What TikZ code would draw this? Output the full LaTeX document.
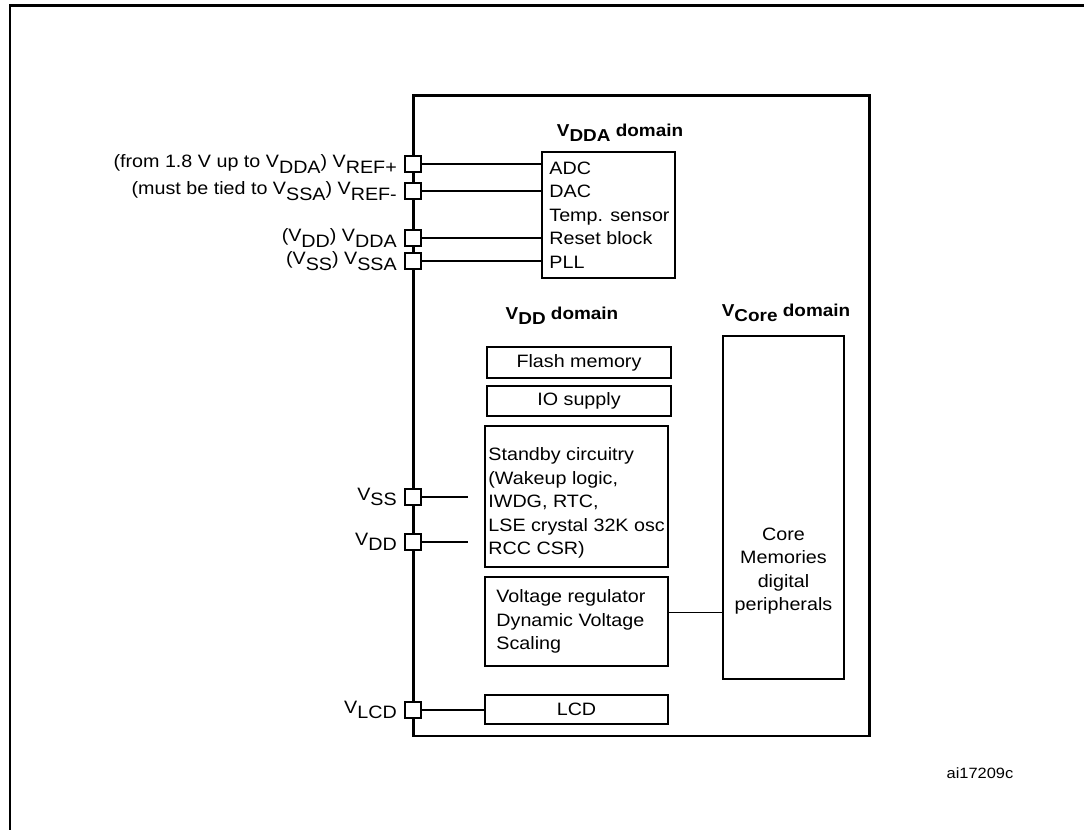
\documentclass[tikz,border=0pt]{standalone}
\usepackage{fontspec}
\setmainfont{Liberation Sans}[FakeStretch=1.1]
\usetikzlibrary{positioning,calc}
\newcommand{\Vs}[1]{V\raisebox{-3pt}{#1}}

\begin{document}
\begin{tikzpicture}[x=0.02cm, y=-0.02cm, font=\fontsize{10.2}{13.4}\selectfont]
\tikzstyle{block} = [rectangle, draw, line width=1.1pt, inner sep=0pt]
\tikzstyle{pad} = [rectangle, draw, fill=white, line width=1pt, minimum size=0.32cm, inner sep=0pt]
\tikzstyle{wire} = [draw, line width=0.85pt]
\tikzstyle{title} = [font=\fontsize{9.8}{12}\selectfont\bfseries]
\tikzstyle{lbl} = [inner sep=0pt, align=left]

\useasboundingbox (0,0) rectangle (1084,830);
% frame and chip
\draw [line width=1.7pt] (10,830) -- (10,6) -- (1084,6);
\draw [line width=1.7pt] (413,96) rectangle (869,736);

% VDDA domain
\node [title] (tdda) at (620,133) {\Vs{DDA} domain};
\node [block, minimum width=2.66cm, minimum height=2.52cm] (vdda) at (608.5,215) {};
\node [lbl, right=0.16cm of vdda.west] (vddatxt) {ADC\\DAC\\Temp. sensor\\Reset block\\PLL};

% VDD domain
\node [title] (tdd) at (562,316) {\Vs{DD} domain};
\node [block, minimum width=3.68cm, minimum height=0.62cm] (flash) at (579,362.5) {Flash memory};
\node [block, minimum width=3.68cm, minimum height=0.6cm] (io) at (579,401) {IO supply};
\node [block, minimum width=3.66cm, minimum height=2.82cm] (standby) at (576.5,496.5) {};
\node [lbl, right=0.08cm of standby.west, yshift=-0.13cm] (standbytxt) {Standby circuitry\\(Wakeup logic,\\IWDG, RTC,\\LSE crystal 32K osc\\RCC CSR)};
\node [block, minimum width=3.66cm, minimum height=1.78cm] (vreg) at (576.5,621.5) {};
\node [lbl, right=0.24cm of vreg.west] (vregtxt) {Voltage regulator\\Dynamic Voltage\\Scaling};
\node [block, minimum width=3.66cm, minimum height=0.58cm] (lcd) at (576.5,709.5) {LCD};

% VCore domain
\node [title] (tcore) at (786,313) {\Vs{Core} domain};
\node [block, minimum width=2.42cm, minimum height=6.86cm] (core) at (783.5,507.5) {};
\node [lbl, align=center] (coretxt) at (783.5,571) {Core\\Memories\\digital\\peripherals};

% supply pins
\node [pad] (prefp) at (413,164) {};
\node [pad] (prefm) at (413,191) {};
\node [pad] (pvdda) at (413,238) {};
\node [pad] (pvssa) at (413,261) {};
\node [pad] (pvss) at (413,497) {};
\node [pad] (pvdd) at (413,542) {};
\node [pad] (pvlcd) at (413,710) {};

\node [lbl, left=0.14cm of prefp] {(from 1.8 V up to \Vs{DDA}) \Vs{REF+}};
\node [lbl, left=0.14cm of prefm] {(must be tied to \Vs{SSA}) \Vs{REF-}};
\node [lbl, left=0.14cm of pvdda] {(\Vs{DD}) \Vs{DDA}};
\node [lbl, left=0.14cm of pvssa] {(\Vs{SS}) \Vs{SSA}};
\node [lbl, left=0.14cm of pvss] {\Vs{SS}};
\node [lbl, left=0.14cm of pvdd] {\Vs{DD}};
\node [lbl, left=0.14cm of pvlcd] {\Vs{LCD}};

\coordinate (vssend) at (468,497);
\coordinate (vddend) at (468,542);
\coordinate (regout) at ($(vreg.north east)!0.4!(vreg.south east)$);

\draw [wire] (prefp) -- (prefp -| vdda.west);
\draw [wire] (prefm) -- (prefm -| vdda.west);
\draw [wire] (pvdda) -- (pvdda -| vdda.west);
\draw [wire] (pvssa) -- (pvssa -| vdda.west);
\draw [wire] (pvss) -- (vssend);
\draw [wire] (pvdd) -- (vddend);
\draw [wire] (pvlcd) -- (pvlcd -| lcd.west);
\draw [wire] (regout) -- (regout -| core.west);

\node [font=\fontsize{8.5}{10}\selectfont] (code) at (980,773) {ai17209c};
\end{tikzpicture}
\end{document}
